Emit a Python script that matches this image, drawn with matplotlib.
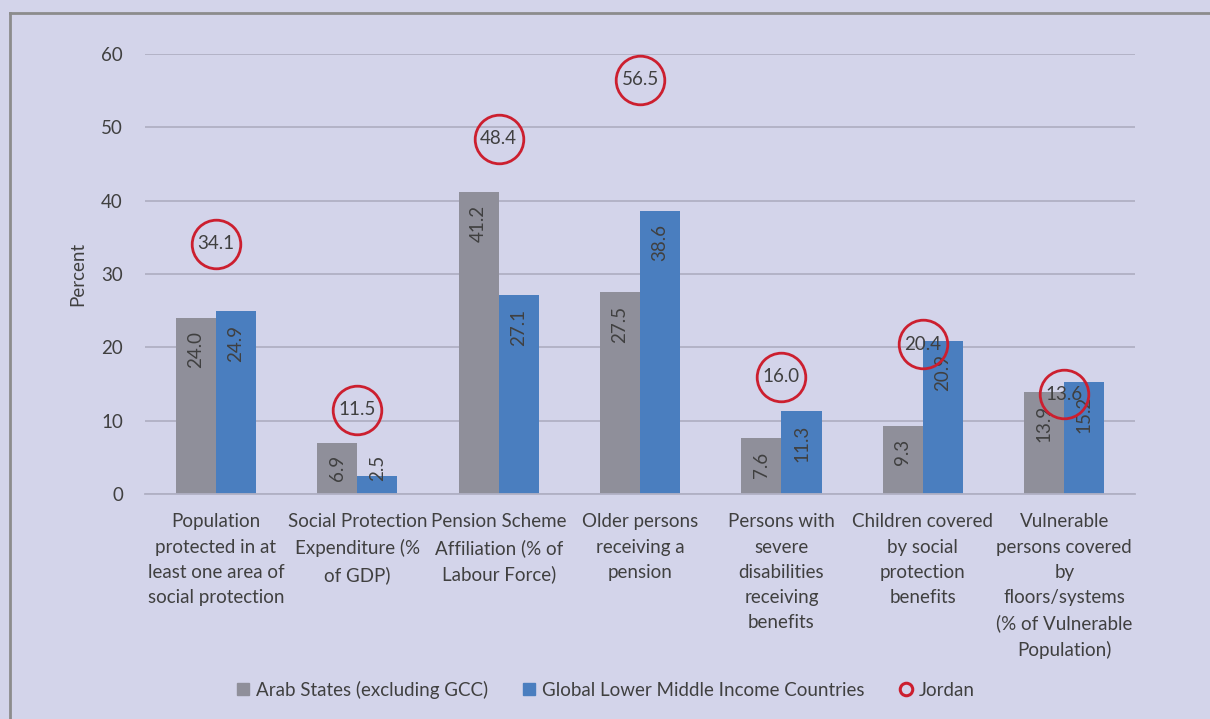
import numpy as np
import matplotlib.pyplot as plt
from matplotlib.lines import Line2D

plt.rcParams['font.family'] = ['Lato', 'DejaVu Sans']

# data
categories = [
    "Population\nprotected in at\nleast one area of\nsocial protection",
    "Social Protection\nExpenditure (%\nof GDP)",
    "Pension Scheme\nAffiliation (% of\nLabour Force)",
    "Older persons\nreceiving a\npension",
    "Persons with\nsevere\ndisabilities\nreceiving\nbenefits",
    "Children covered\nby social\nprotection\nbenefits",
    "Vulnerable\npersons covered\nby\nfloors/systems\n(% of Vulnerable\nPopulation)",
]
arab_states = [24.0, 6.9, 41.2, 27.5, 7.6, 9.3, 13.9]
global_lmic = [24.9, 2.5, 27.1, 38.6, 11.3, 20.9, 15.2]
jordan = [34.1, 11.5, 48.4, 56.5, 16.0, 20.4, 13.6]

bg = "#d3d4ea"
gray = "#8f8f9a"
blue = "#4a7ebf"
red = "#cc1f2f"
txt = "#404040"
fs = 13.5

fig = plt.figure(figsize=(12.1, 7.19), dpi=100, facecolor=bg)
ax = fig.add_axes([0.12, 0.313, 0.818, 0.612])
ax.set_facecolor(bg)

x = np.arange(len(categories))
w = 0.283
ax.bar(x - w / 2, arab_states, w, color=gray, zorder=2)
ax.bar(x + w / 2, global_lmic, w, color=blue, zorder=2)

# value labels inside bars, rotated
for xs, vals in [(x - w / 2, arab_states), (x + w / 2, global_lmic)]:
    for xi, v in zip(xs, vals):
        top = max(v - 1.8, 5.3)
        ax.text(xi, top, f"{v:.1f}", rotation=90, ha="center", va="top",
                fontsize=fs, color=txt, zorder=4)

# Jordan circles
ax.plot(x, jordan, linestyle="none", marker="o", markersize=35,
        markerfacecolor="none", markeredgecolor=red, markeredgewidth=2.0, zorder=5)
for xi, v in zip(x, jordan):
    ax.text(xi, v, f"{v:.1f}", ha="center", va="center", fontsize=fs,
            color=txt, zorder=6)

ax.set_ylim(0, 60)
ax.set_xlim(-0.5, len(categories) - 0.5)
ax.set_yticks(range(0, 61, 10))
ax.yaxis.grid(True, color="#b0b0c4", linewidth=1.3, zorder=0)
ax.set_axisbelow(True)
for s in ["top", "right", "left"]:
    ax.spines[s].set_visible(False)
ax.spines["bottom"].set_color("#b0b0c4")
ax.spines["bottom"].set_linewidth(1.3)
ax.tick_params(axis="both", length=0, labelsize=fs, labelcolor=txt)
ax.tick_params(axis="y", pad=16)
ax.set_xticks(x)
ax.set_xticklabels(categories, linespacing=1.58, fontsize=fs)
ax.tick_params(axis="x", pad=14)
ax.set_ylabel("Percent", fontsize=fs, color=txt, labelpad=11)

# legend
handles = [
    Line2D([], [], linestyle="none", marker="s", markersize=8, color=gray),
    Line2D([], [], linestyle="none", marker="s", markersize=8, color=blue),
    Line2D([], [], linestyle="none", marker="o", markersize=9,
           markerfacecolor="none", markeredgecolor=red, markeredgewidth=2.2),
]
fig.legend(handles, ["Arab States (excluding GCC)",
                     "Global Lower Middle Income Countries", "Jordan"],
           loc="center", bbox_to_anchor=(0.5, 1 - 690 / 719), ncol=3,
           frameon=False, fontsize=fs, handlelength=0.8, handletextpad=0.3,
           columnspacing=1.8, labelcolor=txt)

# frame lines
fig.add_artist(Line2D([10 / 1210, 1], [1 - 13 / 719, 1 - 13 / 719],
                      transform=fig.transFigure, color="#8c8c8c", linewidth=2))
fig.add_artist(Line2D([10 / 1210, 10 / 1210], [0, 1 - 13 / 719],
                      transform=fig.transFigure, color="#8c8c8c", linewidth=2))

fig.savefig("out.png", dpi=100, facecolor=bg)
